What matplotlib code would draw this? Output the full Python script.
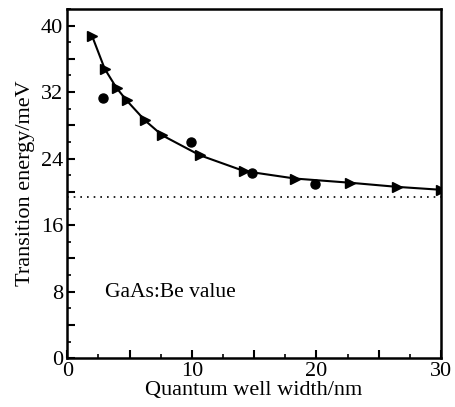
import matplotlib
matplotlib.use("Agg")
from matplotlib import pyplot as plt
from matplotlib.ticker import MultipleLocator, FuncFormatter

# calculated curve (triangles)
calc_x = [2.0, 3.0, 3.95, 4.76, 6.23, 7.62, 10.65, 14.2, 18.3, 22.7, 26.5, 30.0]
calc_y = [38.7, 34.8, 32.5, 31.0, 28.6, 26.8, 24.4, 22.5, 21.6, 21.1, 20.6, 20.25]

# experimental points (circles)
exp_x = [2.88, 9.9, 14.86, 19.9]
exp_y = [31.3, 26.0, 22.3, 21.0]

# bulk value
bulk_y = 19.4

plt.rcParams['font.family'] = ['Liberation Serif', 'DejaVu Serif']

fig = plt.figure(figsize=(4.55, 4.07), dpi=100)
ax = fig.add_axes([0.148, 0.120, 0.821, 0.858])

ax.axhline(bulk_y, color='black', ls=(0, (1, 3)), lw=1.2)
ax.plot(calc_x, calc_y, color='black', lw=1.5, marker='>', markersize=7,
        markerfacecolor='black', markeredgecolor='black')
ax.plot(exp_x, exp_y, ls='none', marker='o', markersize=6.5, color='black')

ax.text(3.0, 7.9, "GaAs:Be value", fontsize=15.5, va='center', ha='left')

ax.set_xlim(0, 30)
ax.set_ylim(0, 42)
ax.xaxis.set_major_locator(MultipleLocator(5))
ax.xaxis.set_minor_locator(MultipleLocator(2.5))
ax.yaxis.set_major_locator(MultipleLocator(4))
ax.yaxis.set_minor_locator(MultipleLocator(2))
ax.xaxis.set_major_formatter(FuncFormatter(lambda v, p: f"{v:.0f}" if round(v) % 10 == 0 else ""))
ax.yaxis.set_major_formatter(FuncFormatter(lambda v, p: f"{v:.0f}" if round(v) % 8 == 0 else ""))

ax.tick_params(which='major', direction='in', length=6, width=1.5, labelsize=16, pad=3)
ax.tick_params(which='minor', direction='in', length=3, width=1.2)
for s in ax.spines.values():
    s.set_linewidth(1.8)

ax.set_xlabel("Quantum well width/nm", fontsize=16, labelpad=0)
ax.set_ylabel("Transition energy/meV", fontsize=16, labelpad=4)

fig.savefig("out.png", dpi=100)
